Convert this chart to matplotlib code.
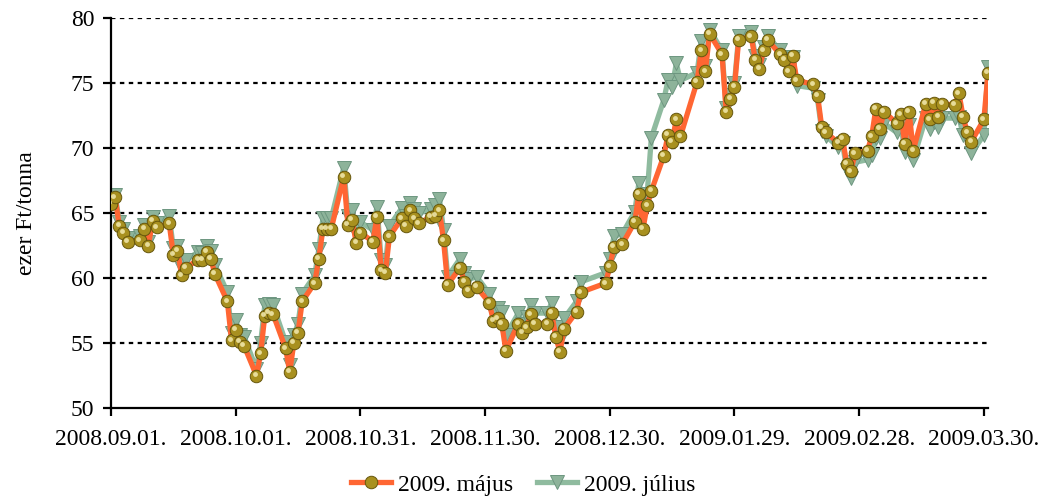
import pandas as pd
import matplotlib
matplotlib.use('Agg')
import matplotlib.pyplot as plt
import matplotlib.dates as mdates
from matplotlib.transforms import offset_copy

# trading days, Sep 1 2008 - Mar 31 2009, without the market holidays
start = '2008-09-01'
end = '2009-03-31'
holidays = ['2008-11-27', '2008-12-24', '2008-12-25', '2008-12-26',
            '2009-01-01', '2009-01-19', '2009-02-16']

# 2009. május (ezer Ft/tonna)
majus = [65.7, 66.2, 64.0, 63.5, 62.8,
         62.9, 63.8, 62.5, 64.4, 63.9,
         64.2, 61.8, 62.1, 60.2, 60.8,
         61.4, 61.4, 62.0, 61.5, 60.3,
         58.2, 55.2, 56.0, 55.1, 54.8,
         52.5, 54.2, 57.1, 57.3, 57.2,
         54.6, 52.8, 55.0, 55.8, 58.2,
         59.6, 61.5, 63.8, 63.8, 63.8,
         67.8, 64.1, 64.5, 62.7, 63.5,
         62.8, 64.7, 60.6, 60.4, 63.2,
         64.6, 64.0, 65.2, 64.6, 64.2,
         64.7, 64.8, 65.2, 62.9, 59.5,
         60.8, 59.7, 59.0, 59.3,
         58.1, 56.7, 56.9, 56.5, 54.4,
         56.5, 55.8, 56.2, 57.2, 56.5,
         56.5, 57.3, 55.5, 54.3, 56.1,
         57.4, 58.9,
         59.6, 60.9, 62.4, 62.6,
         64.3, 66.5, 63.8, 65.6, 66.7,
         69.4, 71.0, 70.5, 72.2, 70.9,
         75.1, 77.5, 75.9, 78.8,
         77.2, 72.8, 73.8, 74.7, 78.3,
         78.6, 76.8, 76.1, 77.5, 78.3,
         77.2, 76.8, 75.9, 77.1, 75.2,
         74.9, 74.0, 71.6, 71.2,
         70.4, 70.7, 68.8, 68.2, 69.6,
         69.8, 70.9, 73.0, 71.5, 72.8,
         71.9, 72.6, 70.3, 72.8, 69.8,
         73.4, 72.2, 73.5, 72.4, 73.4,
         73.3, 74.2, 72.4, 71.2, 70.5,
         72.2, 75.8]

# 2009. július
julius = [65.9, 66.4, 64.3, 63.8, 63.1,
          63.2, 64.1, 62.8, 64.7, 64.2,
          64.8, 62.3, 62.5, 60.7, 61.4,
          62.0, 61.9, 62.5, 62.1, 61.0,
          58.9, 55.8, 56.8, 55.6, 55.5,
          53.0, 55.0, 57.9, 58.0, 57.9,
          55.1, 53.3, 55.6, 56.5, 58.8,
          60.2, 62.2, 64.6, 64.6, 64.6,
          68.5, 64.8, 65.2, 63.4, 64.3,
          63.7, 65.5, 61.4, 61.0, 64.0,
          65.4, 64.8, 65.8, 65.3, 65.0,
          65.3, 65.6, 66.1, 63.7, 60.1,
          61.5, 60.4, 59.9, 60.1,
          58.8, 57.4, 57.7, 57.4, 55.6,
          57.3, 56.5, 57.0, 57.9, 57.3,
          57.3, 58.1, 56.2, 55.2, 56.9,
          58.2, 59.7,
          60.4, 61.5, 63.2, 63.4,
          65.1, 67.3, 66.0, 66.5, 70.8,
          73.7, 75.2, 74.7, 76.5, 75.2,
          75.8, 78.2, 76.3, 79.1,
          77.5, 73.1, 74.1, 75.0, 78.6,
          78.9, 77.1, 76.4, 77.8, 78.6,
          77.5, 77.0, 76.0, 77.0, 74.8,
          74.6, 73.7, 71.3, 70.9,
          70.1, 70.4, 68.3, 67.7, 68.9,
          69.1, 69.5, 70.8, 70.8, 71.9,
          71.2, 71.9, 69.7, 71.8, 69.1,
          72.3, 71.5, 72.0, 71.6, 72.3,
          72.3, 72.4, 71.0, 70.8, 69.6,
          71.0, 76.2]

tick_dates = ['2008-09-01', '2008-10-01', '2008-10-31', '2008-11-30',
              '2008-12-30', '2009-01-29', '2009-02-28', '2009-03-30']

days = pd.bdate_range(start, end)
days = days[~days.isin(pd.to_datetime(holidays))]

plt.rcParams['font.family'] = ['Liberation Serif', 'DejaVu Serif']

fig = plt.figure(figsize=(10.5, 4.97), dpi=100)
ax = fig.add_axes([0.1057, 0.179, 0.8353, 0.7848])

ax.plot(days, julius, color='#8fbb9f', lw=3.8, zorder=2,
        marker='v', ms=10, mfc='#8db39a', mec='#6d9680', mew=0.7,
        label='2009. július')
ax.plot(days, majus, color='#ff6633', lw=3.8, zorder=4,
        marker='o', ms=9, mfc='#a8901f', mec='#66560c', mew=0.7,
        label='2009. május')
# little highlight on the gold balls
shine = offset_copy(ax.transData, fig=fig, x=-1.2, y=1.2, units='points')
ax.plot(days, majus, ls='none', marker='o', ms=3.5, mfc='#f3eab0', mec='none',
        alpha=0.85, transform=shine, zorder=5)

ax.set_ylim(50, 80)
ax.set_yticks(range(50, 81, 5))
ax.set_xlim(pd.Timestamp(start), pd.Timestamp(end))
ax.set_xticks(pd.to_datetime(tick_dates))
ax.xaxis.set_major_formatter(mdates.DateFormatter('%Y.%m.%d.'))

for y in range(55, 81, 5):
    ax.axhline(y, color='black', lw=1.6, ls=(0, (2, 2)), zorder=1)

for s in ['top', 'right']:
    ax.spines[s].set_visible(False)
for s in ['left', 'bottom']:
    ax.spines[s].set_linewidth(1.6)
ax.tick_params(axis='both', labelsize=17, width=1.6, length=6, direction='out')
ax.tick_params(axis='x', pad=9)
ax.tick_params(axis='y', pad=6)

ax.set_ylabel('ezer Ft/tonna', fontsize=17, labelpad=24)

handles, labels = ax.get_legend_handles_labels()
ax.legend(handles[::-1], labels[::-1], loc='center', bbox_to_anchor=(0.47, -0.197),
          ncol=2, frameon=False, fontsize=17, handlelength=1.7, columnspacing=1.0,
          handletextpad=0.3, borderpad=0.2)

fig.savefig('out.png', dpi=100)
